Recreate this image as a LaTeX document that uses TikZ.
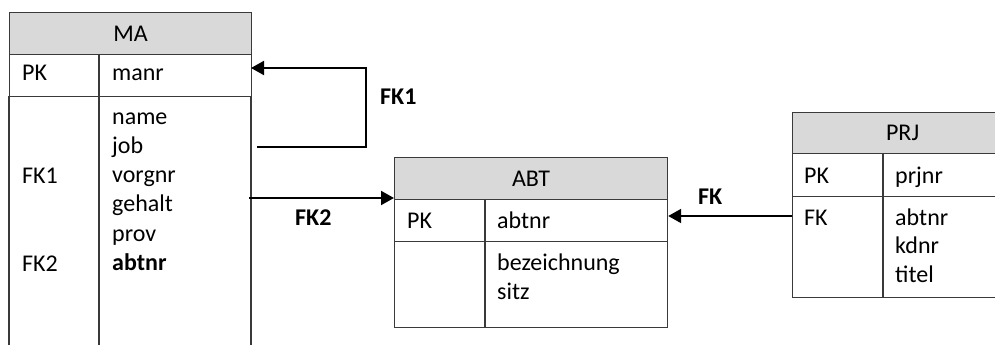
\documentclass[tikz,border=0pt]{standalone}
\usepackage{fontspec}
\setmainfont{Carlito}
\usepackage{xcolor}
\usetikzlibrary{arrows.meta}
\definecolor{hdr}{HTML}{D9D9D9}
\definecolor{line}{HTML}{3A3A3A}
\begin{document}
\begin{tikzpicture}[x=1pt, y=-1pt, font=\fontsize{24}{29.3}\selectfont,
  tab/.style={draw=line, line width=1.2pt},
  box/.style={tab, anchor=north west, inner sep=0pt},
  hd/.style={box, fill=hdr, text depth=0pt},
  txt/.style={anchor=base west, inner sep=0pt},
  fk/.style={line width=2pt, -{Triangle[length=13pt,width=14pt]}}]
\useasboundingbox (0,0) rectangle (995,345);

%MA
\node[hd, minimum width=242, minimum height=42] (ma) at (9,12) {MA};
\node[box, minimum width=242, minimum height=42] (mapk) at (9,54) {};
\draw[tab] (9,96) -- (9,350) (251,96) -- (251,350) (99,54) -- (99,350);
\node[txt] (mapkl) at (22,81) {PK};
\node[txt] (manr) at (112,81) {manr};
\foreach \t [count=\i] in {name,job,vorgnr,gehalt,prov,\textbf{abtnr}}
{ \node[txt] (ma\i) at (112,124+29.3*\i-29.3) {\t}; }
\node[txt] (mafk1) at (22,183) {FK1};
\node[txt] (mafk2) at (22,271) {FK2};

%ABT
\node[hd, minimum width=273, minimum height=42] (abt) at (394,157) {ABT};
\node[box, minimum width=273, minimum height=42] (abtpk) at (394,199) {};
\node[box, minimum width=273, minimum height=86] (abtrest) at (394,241) {};
\draw[tab] (485,199) -- (485,327);
\node[txt] (abtpkl) at (407,228) {PK};
\node[txt] (abtnr) at (497,228) {abtnr};
\node[txt] (bez) at (497,270) {bezeichnung};
\node[txt] (sitz) at (497,299) {sitz};

%PRJ
\node[hd, minimum width=220, minimum height=41] (prj) at (792,112) {PRJ};
\node[box, minimum width=220, minimum height=43] (prjpk) at (792,153) {};
\node[box, minimum width=220, minimum height=101] (prjrest) at (792,196) {};
\draw[tab] (883,153) -- (883,297);
\node[txt] (prjpkl) at (804,183) {PK};
\node[txt] (prjnr) at (895,183) {prjnr};
\node[txt] (prjfk) at (804,225) {FK};
\foreach \t [count=\i] in {abtnr,kdnr,titel}
{ \node[txt] (prj\i) at (895,225+28.8*\i-28.8) {\t}; }

%Fremdschluessel
\coordinate (fk1a) at (257,147);
\coordinate (fk1b) at (251,68);
\draw[fk] (fk1a) -- ++(109,0) |- (fk1b);
\node[txt] (fk1) at (380,104) {\textbf{FK1}};

\coordinate (fk2a) at (249,198);
\draw[fk] (fk2a) -- (fk2a -| abt.west);
\node[txt] (fk2) at (295,225) {\textbf{FK2}};

\coordinate (fka) at (792,216);
\draw[fk] (fka) -- (fka -| abtpk.east);
\node[txt] (fkl) at (698,204) {\textbf{FK}};
\end{tikzpicture}
\end{document}
